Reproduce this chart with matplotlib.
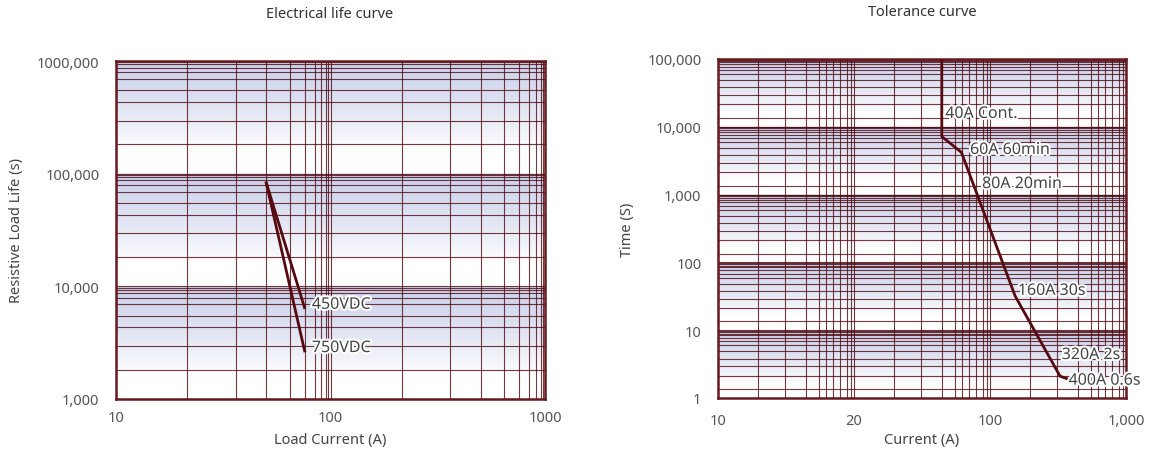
import numpy as np
import matplotlib
matplotlib.use("Agg")
import matplotlib.pyplot as plt
import matplotlib.patheffects as pe
from matplotlib.ticker import FixedLocator, NullFormatter

plt.rcParams['font.family'] = ['Noto Sans', 'DejaVu Sans']

# ---- electrical life curve data
life_current = [50, 76]
life_450vdc = [85000, 6300]
life_750vdc = [85000, 2600]
life_names = ['450VDC', '750VDC']

life_xticks = [10, 100, 1000]
life_xlabels = ['10', '100', '1000']
life_yticks = [1000, 10000, 100000, 1000000]
life_ylabels = ['1,000', '10,000', '100,000', '1000,000']

# ---- tolerance curve data
tol_current = [125, 125, 156, 286, 475, 520]
tol_time = [100000, 7200, 4200, 32, 2.1, 1.9]
tol_notes = ['40A Cont.', '60A 60min', '80A 20min', '160A 30s', '320A 2s', '400A 0.6s']
tol_note_x = [130, 172, 197, 295, 484, 523]
tol_note_y = [15500, 4550, 1430, 38, 4.3, 1.8]

tol_xticks = [10, 10 ** (5 / 3), 10 ** (7 / 3), 1000]
tol_xlabels = ['10', '20', '100', '']
tol_yticks = [1, 10, 100, 1000, 10000, 100000]
tol_ylabels = ['1', '10', '100', '1,000', '10,000', '100,000']

# in-decade fractions of the split lines as drawn in the original
life_xfrac = [0.333, 0.558, 0.70, 0.81, 0.879, 0.926, 0.958, 0.981, 0.99]
life_yfrac = [0.26, 0.47, 0.636, 0.74, 0.84, 0.90, 0.94, 0.97, 0.988]
tol_xfrac = [0.297, 0.493, 0.645, 0.743, 0.792, 0.849, 0.897, 0.946, 0.975]
tol_yfrac = [0.13, 0.33, 0.467, 0.58, 0.687, 0.776, 0.836, 0.885, 0.925, 0.95, 0.975, 0.99]

LINE = '#560a10'
GRID = '#4e0a10'
FRAME = '#661a20'
BLUE = np.array([0.80, 0.825, 0.92])
TEXT = '#444444'


def minor_values(lo, hi, step, fracs):
    vals = []
    e = lo
    while e < hi - 1e-9:
        for f in fracs:
            vals.append(10 ** (e + step * f))
        e += step
    return vals


def gradient(n_dec):
    rows = []
    for _ in range(n_dec):
        t = np.linspace(0, 1, 120)
        s = np.clip(t / 0.8, 0, 1) ** 1.3
        rows.append(BLUE[None, :] * (1 - s[:, None]) + s[:, None])
    return np.concatenate(rows)[:, None, :]


def make_axes(rect, n_dec):
    bg = fig.add_axes(rect, zorder=0)
    bg.imshow(gradient(n_dec), aspect='auto', extent=(0, 1, 0, 1), interpolation='bilinear')
    bg.axis('off')
    ax = fig.add_axes(rect, zorder=1)
    ax.patch.set_alpha(0)
    return ax


def style(ax, xminor, yminor):
    ax.xaxis.set_minor_locator(FixedLocator(xminor))
    ax.yaxis.set_minor_locator(FixedLocator(yminor))
    ax.xaxis.set_minor_formatter(NullFormatter())
    ax.yaxis.set_minor_formatter(NullFormatter())
    ax.grid(True, which='both', color=GRID, lw=0.8, alpha=0.8)
    ax.tick_params(which='both', length=0, labelsize=10.5, colors='#555555')
    for sp in ax.spines.values():
        sp.set_color(FRAME)
        sp.set_linewidth(1.8)


fig = plt.figure(figsize=(11.52, 4.56), dpi=100)
halo = [pe.withStroke(linewidth=3, foreground='white')]

# ---- left chart
ax1 = make_axes([116 / 1152, 56 / 456, 429 / 1152, 338 / 456], 3)
ax1.set_xscale('log')
ax1.set_yscale('log')
ax1.set_xlim(10, 1000)
ax1.set_ylim(1000, 1000000)
ax1.set_xticks(life_xticks, life_xlabels)
ax1.set_yticks(life_yticks, life_ylabels)
style(ax1, minor_values(1, 3, 1, life_xfrac), minor_values(3, 6, 1, life_yfrac))
ax1.tick_params(axis='y', pad=12)
ax1.tick_params(axis='x', pad=8)

for vals, name in zip([life_450vdc, life_750vdc], life_names):
    ax1.plot(life_current, vals, color=LINE, lw=2, zorder=3, solid_capstyle='butt')
    ax1.annotate(name, (life_current[-1], vals[-1]), xytext=(5, 3), textcoords='offset points',
                 va='center', ha='left', fontsize=11.5, color=TEXT, path_effects=halo, zorder=4)

fig.text(330 / 1152, 1 - 15 / 456, 'Electrical life curve', ha='center', va='center', fontsize=10.5, color='#333333')
fig.text(330 / 1152, 1 - 441 / 456, 'Load Current (A)', ha='center', va='center', fontsize=10.5, color='#444444')
fig.text(17 / 1152, 1 - 231 / 456, 'Resistive Load Life (s)', ha='center', va='center', rotation=90,
         fontsize=10.5, color='#444444')

# ---- right chart
ax2 = make_axes([718 / 1152, 57 / 456, 408 / 1152, 339 / 456], 5)
ax2.set_xscale('log')
ax2.set_yscale('log')
ax2.set_xlim(10, 1000)
ax2.set_ylim(1, 100000)
ax2.set_xticks(tol_xticks, tol_xlabels)
ax2.set_yticks(tol_yticks, tol_ylabels)
style(ax2, minor_values(1, 3, 2 / 3, tol_xfrac), minor_values(0, 5, 1, tol_yfrac))
ax2.tick_params(axis='y', pad=12)
ax2.tick_params(axis='x', pad=11)
ax2.annotate('1,000', (1000, 0), xycoords=('data', 'axes fraction'), xytext=(0, -16),
             textcoords='offset points', ha='center', va='center', fontsize=10.5, color='#555555')

ax2.plot(tol_current, tol_time, color=LINE, lw=2, zorder=3)
for note, nx, ny in zip(tol_notes, tol_note_x, tol_note_y):
    ax2.text(nx, ny, note, ha='left', va='center', fontsize=11.5, color=TEXT, path_effects=halo, zorder=4)

fig.text(922 / 1152, 1 - 13 / 456, 'Tolerance curve', ha='center', va='center', fontsize=10.5, color='#333333')
fig.text(922 / 1152, 1 - 441 / 456, 'Current (A)', ha='center', va='center', fontsize=10.5, color='#444444')
fig.text(628 / 1152, 1 - 230 / 456, 'Time (S)', ha='center', va='center', rotation=90,
         fontsize=10.5, color='#444444')

fig.savefig('out.png', dpi=100)
